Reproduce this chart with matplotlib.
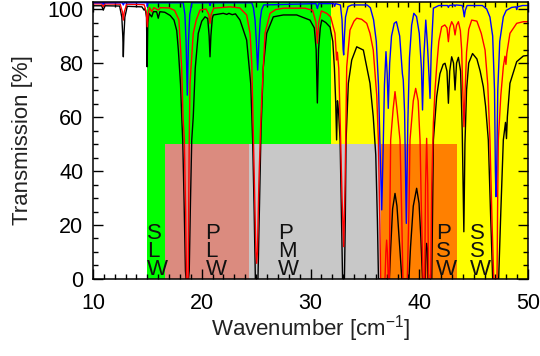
import matplotlib
matplotlib.use('Agg')
import matplotlib.pyplot as plt
from matplotlib.ticker import MultipleLocator

plt.rcParams['font.family'] = ['Liberation Sans', 'DejaVu Sans']
plt.rcParams['mathtext.fontset'] = 'custom'
plt.rcParams['mathtext.rm'] = 'Liberation Sans'

# transmission spectra (wavenumber, %)
black_x = [10.0, 10.8, 10.95, 11.1, 12.45, 12.65, 12.74, 12.79, 12.84, 12.93, 13.15, 14.5, 14.7, 14.8,
           14.92, 14.98, 15.04, 15.15, 15.4, 15.55, 15.85, 16.0, 16.15, 16.6, 17.1, 17.45, 17.7, 17.85,
           18.05, 18.16, 18.25, 18.38, 18.5, 18.56, 18.78, 18.85, 18.96, 19.08, 19.22, 19.4, 19.68,
           20.0, 20.3, 20.55, 20.68, 20.76, 20.84, 20.97, 21.07, 21.98, 22.3, 22.5, 22.8, 23.1, 23.52,
           24.13, 24.5, 24.68, 24.82, 24.93, 25.17, 25.3, 25.45, 25.66, 25.97, 26.58, 27.5, 28.73,
           29.95, 30.35, 30.52, 30.63, 30.74, 30.9, 31.03, 31.4, 31.8, 32.05, 32.2, 32.32, 32.4, 32.48,
           32.58, 32.72, 32.85, 32.95, 33.12, 33.2, 33.27, 33.48, 33.79, 34.25, 34.86, 35.47, 35.77,
           36.0, 36.15, 36.25, 37.25, 37.38, 37.55, 37.77, 37.95, 38.15, 38.4, 39.05, 39.2, 39.45,
           39.76, 39.98, 40.15, 40.3, 40.55, 40.62, 40.68, 40.75, 40.8, 41.15, 41.22, 41.3, 41.6, 41.9,
           42.2, 42.37, 42.55, 42.68, 42.8, 42.98, 43.15, 43.29, 43.43, 43.6, 43.8, 43.95, 44.1, 44.2,
           44.35, 44.55, 44.9, 45.3, 45.6, 45.89, 46.1, 46.35, 46.55, 46.75, 47.3, 47.5, 47.73, 47.93,
           48.02, 48.1, 48.34, 48.96, 49.57, 50.0]
black_y = [101.2, 101.2, 99.6, 101.2, 101.1, 97, 90, 82.3, 90, 97, 101.0, 100.8, 99.6, 100.2,
           97, 78.6, 95, 98.4, 97.1, 99.0, 99.0, 96.6, 99.0, 98.8, 97.6, 95.9, 92, 84.8,
           72, 60.1, 51.5, 28, 3, 0, 0, 3, 28, 51.5, 60.1, 78, 91.0,
           95.5, 97.1, 96.5, 90, 82.3, 90, 96.6, 97.8, 98.4, 98.0, 98.4, 97.9, 98.2, 95.9,
           88.5, 72.5, 51.5, 25, 0, 0, 25, 55, 78.4, 91.0, 97.1, 97.8, 97.8,
           95.9, 93, 85, 65.2, 85, 93, 95.9, 95.0, 93.3, 88, 78, 65, 51.5, 66,
           62, 51.5, 22, 0, 0, 22, 51.5, 72.5, 81.1, 86.0, 84.8, 72.5, 60.1,
           46, 22, 0, 0, 12, 26, 31.7, 27, 15, 0, 0, 12, 27,
           33.6, 28, 15, 0, 0, 11, 13.2, 11, 0, 0, 25, 51.5, 67.5, 76,
           79.5, 79.9, 77, 65.1, 77, 82.3, 80, 70.0, 80, 82.1, 77, 55, 17.5, 50,
           70, 80, 83.5, 81.5, 77, 71.2, 64, 51.5, 25, 0, 0, 25, 51.5, 58,
           52, 60, 72.5, 80.5, 82.6, 82.8]

red_x = [10.0, 10.8, 10.95, 11.1, 12.5, 12.7, 12.79, 12.88, 13.1, 14.7, 14.9, 14.99, 15.08, 15.2,
         15.4, 15.6, 16.0, 16.2, 17.0, 17.5, 17.9, 18.15, 18.28, 18.4, 18.52, 18.6, 18.75, 18.8,
         18.85, 18.92, 19.22, 19.5, 19.84, 20.4, 20.65, 20.76, 20.87, 21.1, 22.6, 23.5, 24.13,
         24.44, 24.6, 24.74, 24.88, 24.98, 25.05, 25.12, 25.25, 25.4, 25.51, 25.82, 26.28, 26.8,
         27.5, 29.5, 30.2, 30.5, 30.63, 30.76, 31.0, 31.49, 31.85, 32.25, 32.4, 32.47, 32.6, 32.75,
         32.9, 33.05, 33.18, 33.33, 33.63, 34.0, 34.25, 34.7, 35.17, 35.47, 35.77, 36.09, 36.24,
         36.38, 36.45, 36.85, 36.93, 37.0, 37.07, 37.15, 37.25, 37.3, 37.37, 37.6, 37.77, 37.95,
         38.23, 38.38, 38.5, 38.9, 39.05, 39.15, 39.45, 39.67, 39.9, 40.07, 40.2, 40.35, 40.5,
         40.58, 40.68, 40.78, 40.85, 41.05, 41.15, 41.3, 41.45, 41.6, 41.8, 42.06, 42.35, 42.55,
         42.68, 42.8, 42.98, 43.15, 43.29, 43.43, 43.6, 43.78, 43.9, 44.0, 44.11, 44.22, 44.35,
         44.55, 44.82, 45.3, 45.7, 46.05, 46.3, 46.5, 46.7, 46.85, 47.15, 47.2, 47.27, 47.5, 47.73,
         47.88, 47.97, 48.05, 48.34, 48.96, 49.57, 50.0]
red_y = [101.9, 101.9, 100.9, 101.9, 101.8, 99, 95.9, 99, 101.8, 101.6, 99, 93.4, 98.5, 100.5,
         99.0, 100.5, 99.6, 100.5, 100.4, 99.5, 96, 78.6, 60, 51.5, 25, 0, 0, 25,
         51.5, 72.5, 91.0, 96, 99.6, 100.0, 98, 94.7, 98, 100.3, 100.8, 100.4, 97.8,
         91.0, 80, 54.1, 30, 10, 5.8, 10, 35, 55, 66.3, 91.0, 98.4, 99.8,
         100.3, 100.3, 99.5, 95, 87.3, 95, 99.3, 98.4, 97.1, 91.0, 81.1, 84, 78, 55,
         30, 12.0, 35, 78.6, 92.2, 95.5, 96.6, 96.2, 94.7, 91.0, 84.8, 68, 51.5,
         20, 0, 0, 10, 14.4, 10, 0, 0, 25, 51.5, 63, 69.4, 63,
         51.5, 25, 0, 0, 25, 51.5, 66, 70.6, 66, 51.5, 25, 0, 0,
         35, 52.1, 35, 0, 0, 35, 58, 70, 78.6, 88, 93.4, 94.1, 93,
         87.9, 93, 95.3, 94, 90.4, 94, 95.3, 92, 84.8, 70, 56.4, 70, 84,
         92.5, 95.9, 95.5, 91, 84.8, 72, 51.5, 20, 0, 0, 25, 51.5, 68, 78.6,
         82.5, 79.5, 83.5, 91.0, 94.7, 95.3, 95.3]

blue_x = [10.0, 10.9, 10.95, 11.0, 12.7, 12.79, 12.88, 14.95, 15.0, 15.05, 18.3, 18.45, 18.56, 18.67,
          18.78, 18.9, 19.1, 20.7, 20.76, 20.82, 24.6, 24.75, 24.9, 25.02, 25.14, 25.26, 25.38, 25.5,
          25.7, 30.5, 30.63, 30.76, 32.15, 32.22, 32.3, 32.75, 32.9, 33.0, 33.05, 33.12, 33.22, 33.45,
          33.8, 35.2, 35.5, 35.8, 36.05, 36.25, 36.4, 36.55, 36.68, 36.8, 36.94, 37.05, 37.15, 37.28,
          37.45, 37.7, 37.9, 38.2, 38.45, 38.53, 38.65, 38.81, 38.95, 39.1, 39.3, 39.5, 39.75, 40.0,
          40.2, 40.3, 40.42, 40.6, 40.75, 40.9, 40.99, 41.1, 41.3, 41.8, 42.6, 42.68, 42.76, 43.22,
          43.29, 43.36, 43.95, 44.05, 44.14, 44.23, 44.4, 45.8, 46.2, 46.5, 46.75, 46.92, 47.0, 47.05,
          47.12, 47.22, 47.4, 47.73, 48.0, 48.5, 48.9, 48.96, 49.02, 49.5, 50.0]
blue_y = [102.3, 102.3, 101.8, 102.3, 102.3, 101.5, 102.3, 102.3, 101.0, 102.3, 102.3, 98, 88, 68.1,
          88, 98, 102.3, 102.3, 101.3, 102.3, 102.3, 100.5, 96, 88, 77.4, 88, 96, 99.6,
          101.5, 102.0, 100.2, 102.0, 102.0, 101, 102.0, 101.5, 96, 85, 83.0, 90, 97, 100.9,
          101.5, 101.5, 100.5, 96, 88, 72, 48, 25.6, 48, 72, 84.2, 76, 63.2, 80,
          90, 94.7, 95.3, 90, 76, 73.7, 62, 20.6, 58, 82, 94, 98.4, 97.2, 91,
          78, 62.6, 82, 95.9, 87, 75, 66.9, 84, 100.3, 101.3, 101.3, 100.6, 101.3, 101.5,
          101.0, 101.5, 101.3, 99.5, 97.1, 99.5, 101.3, 101.3, 100, 97, 90, 70, 40, 30.5,
          40, 70, 88, 97.1, 99.5, 100.6, 100.8, 99.8, 100.8, 101.3, 101.3]

# background regions and instrument bands
region_edges = [15.0, 31.9, 50.0]
region_colors = ['#00ff00', '#ffff00']
band_names = ['SLW', 'PLW', 'PMW', 'PSW', 'SSW']
band_text_x = [15.0, 20.35, 27.0, 41.55, 44.65]
box_lo = [16.65, 24.3, 36.5]
box_hi = [24.3, 36.5, 43.5]
box_colors = ['#db8b7f', '#c8c8c8', '#ff8000']
box_top = 50

fig = plt.figure(figsize=(5.4, 3.56), dpi=100)
ax = fig.add_axes([0.1722, 0.2163, 0.8056, 0.7781])

for i, c in enumerate(region_colors):
    ax.axvspan(region_edges[i], region_edges[i + 1], color=c, lw=0, zorder=0)
for lo, hi, c in zip(box_lo, box_hi, box_colors):
    ax.fill_between([lo, hi], 0, box_top, color=c, lw=0, zorder=1)

# band names written one letter per line (anchored on the last line's baseline)
for name, x in zip(band_names, band_text_x):
    ax.text(x, 1.5, '\n'.join(name), fontsize=16, color='#111111',
            ha='left', va='baseline', linespacing=0.8, multialignment='left', zorder=2)

ax.plot(black_x, black_y, color='black', lw=1.0, zorder=3)
ax.plot(red_x, red_y, color='#ff0000', lw=1.0, zorder=4)
ax.plot(blue_x, blue_y, color='#0000ff', lw=1.0, zorder=5)

ax.set_xlim(10, 50)
ax.set_ylim(0, 102.6)
ax.xaxis.set_major_locator(MultipleLocator(10))
ax.xaxis.set_minor_locator(MultipleLocator(1))
ax.yaxis.set_major_locator(MultipleLocator(20))
ax.yaxis.set_minor_locator(MultipleLocator(5))
ax.tick_params(which='both', direction='in', top=True, right=True, width=1.0, labelsize=15.5)
ax.tick_params(which='major', length=7)
ax.tick_params(which='minor', length=3.5)
ax.tick_params(axis='x', pad=10)
ax.tick_params(axis='y', pad=7)
for s in ax.spines.values():
    s.set_linewidth(1.1)
    s.set_zorder(6)

ax.set_xlabel('Wavenumber [cm$^{\\mathrm{-1}}$]', fontsize=16, color='#222222')
ax.set_ylabel('Transmission [%]', fontsize=16, color='#222222')
ax.xaxis.set_label_coords(0.5, -0.178)
ax.xaxis.label.set_va('center')
ax.yaxis.set_label_coords(-0.163, 0.5)
ax.yaxis.label.set_va('center')

fig.savefig('out.png', dpi=100)
